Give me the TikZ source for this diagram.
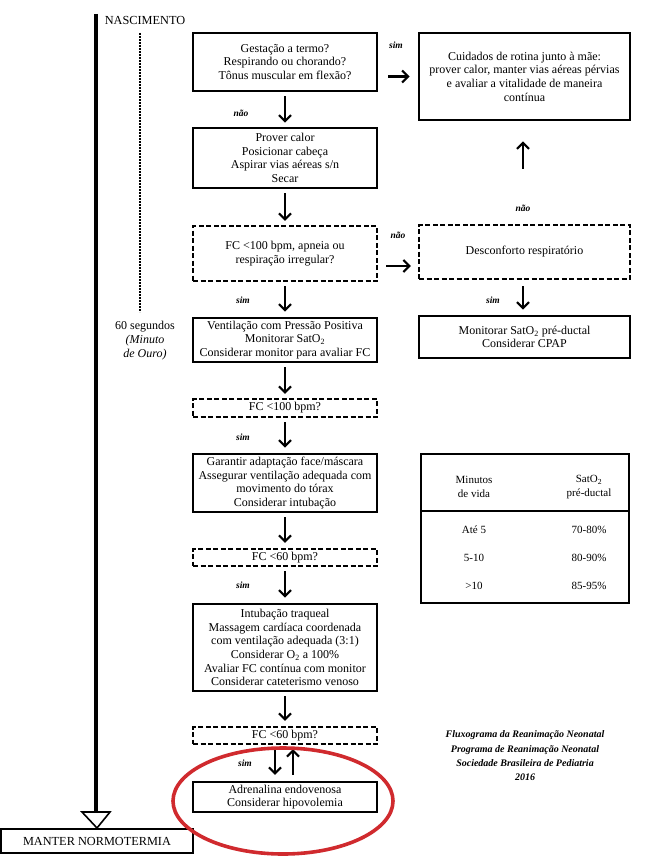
\documentclass[tikz,border=0pt]{standalone}
\usepackage{fontspec}
\setmainfont{Liberation Serif}
\usetikzlibrary{arrows.meta}
\definecolor{ered}{RGB}{208,42,46}
\begin{document}
\begin{tikzpicture}[x=1pt,y=-1pt,
  box/.style={draw, line width=2.6pt, align=center, inner sep=1pt, font=\fontsize{12}{13.7}\selectfont},
  mbox/.style={box, minimum width=184pt},
  rbox/.style={box, minimum width=211pt},
  dashbox/.style={dash pattern=on 5pt off 2.5pt, line width=2.2pt},
  arr/.style={line width=2.2pt, -{Straight Barb[length=6pt,width=12pt,line width=2.2pt]}},
  lbl/.style={font=\fontsize{9.5}{10}\selectfont\itshape\bfseries},
  ttxt/.style={align=center, font=\fontsize{11}{13.5}\selectfont},
]
\useasboundingbox (0,0) rectangle (648,861);

% birth line and dotted line
\coordinate (top) at (96,14);
\node[font=\fontsize{12.3}{14}\selectfont] (nasc) at (145,20) {NASCIMENTO};
\coordinate (dtop) at (140,33);
\coordinate (dbot) at (140,312);
\draw[line width=2pt, dash pattern=on 1.6pt off 1.4pt] (dtop) -- (dbot);
\node[align=center, font=\fontsize{12}{14}\selectfont] (sixty) at (145,341) {60 segundos\\{\itshape(Minuto}\\{\itshape de Ouro)}};

% main column
\node[mbox, minimum height=58pt] (b1) at (285,62) {Gestação a termo?\\Respirando ou chorando?\\Tônus muscular em flexão?};
\node[mbox, minimum height=60pt] (b2) at (285,158) {Prover calor\\Posicionar cabeça\\Aspirar vias aéreas s/n\\Secar};
\node[mbox, dashbox, minimum height=55pt] (b3) at (285,253.5) {FC <100 bpm, apneia ou\\respiração irregular?};
\node[mbox, minimum height=44pt] (b4) at (285,340) {Ventilação com Pressão Positiva\\Monitorar SatO\textsubscript{2}\\Considerar monitor para avaliar FC};
\node[mbox, dashbox, minimum height=18pt, inner sep=0pt] (b5) at (285,408) {FC <100 bpm?};
\node[mbox, minimum height=58pt] (b6) at (285,483) {Garantir adaptação face/máscara\\Assegurar ventilação adequada com\\movimento do tórax\\Considerar intubação};
\node[mbox, dashbox, minimum height=17pt, inner sep=0pt] (b7) at (285,557.5) {FC <60 bpm?};
\node[mbox, minimum height=87pt] (b8) at (285,647.5) {Intubação traqueal\\Massagem cardíaca coordenada\\com ventilação adequada (3:1)\\Considerar O\textsubscript{2} a 100\%\\Avaliar FC contínua com monitor\\Considerar cateterismo venoso};
\node[mbox, dashbox, minimum height=17pt, inner sep=0pt] (b9) at (285,735.5) {FC <60 bpm?};
\node[mbox, minimum height=30pt, line width=2.2pt] (b10) at (285,797) {Adrenalina endovenosa\\Considerar hipovolemia};

% right column
\node[rbox, minimum height=87pt] (r1) at (524.5,76.5) {Cuidados de rotina junto à mãe:\\prover calor, manter vias aéreas pérvias\\e avaliar a vitalidade de maneira\\contínua};
\node[rbox, dashbox, minimum height=54pt] (r2) at (524.5,252) {Desconforto respiratório};
\node[rbox, minimum height=42pt] (r3) at (524.5,337) {Monitorar SatO\textsubscript{2} pré-ductal\\Considerar CPAP};

% table
\node[draw, line width=1.4pt, minimum width=208pt, minimum height=149pt] (tbl) at (525,528.5) {};
\coordinate (tdiv) at (525,511);
\draw[line width=1.4pt] (tbl.west |- tdiv) -- (tbl.east |- tdiv);
\node[ttxt] (th1) at (474,487) {Minutos\\de vida};
\node[ttxt] (th2) at (589,487) {SatO\textsubscript{2}\\pré-ductal};
\node[ttxt] (t11) at (474,530) {Até 5};
\node[ttxt] (t12) at (589,530) {70-80\%};
\node[ttxt] (t21) at (474,558) {5-10};
\node[ttxt] (t22) at (589,558) {80-90\%};
\node[ttxt] (t31) at (474,586) {>10};
\node[ttxt] (t32) at (589,586) {85-95\%};

% caption
\node[align=center, font=\fontsize{10}{14.3}\selectfont\itshape\bfseries] (cap) at (525,756) {Fluxograma da Reanimação Neonatal\\Programa de Reanimação Neonatal\\Sociedade Brasileira de Pediatria\\2016};

% manter normotermia
\node[draw, line width=2pt, minimum width=192pt, minimum height=24pt, inner sep=0pt, font=\fontsize{12.3}{14}\selectfont] (mant) at (97,841) {MANTER NORMOTERMIA};
\coordinate (tri) at (96,812);
\draw[line width=4pt] (top) -- (tri);
\draw[line width=1.6pt, fill=white, line join=miter] (82,812) -- (110,812) -- (mant.north) -- cycle;

% main arrows
\draw[arr, shorten <=4pt, shorten >=4pt] (b1) -- (b2);
\draw[arr, shorten <=4pt, shorten >=4pt] (b2) -- (b3);
\draw[arr, shorten <=4pt, shorten >=5pt] (b3) -- (b4);
\draw[arr, shorten <=4pt, shorten >=4pt] (b4) -- (b5);
\draw[arr, shorten <=4pt, shorten >=5pt] (b5) -- (b6);
\draw[arr, shorten <=4pt, shorten >=5pt] (b6) -- (b7);
\draw[arr, shorten <=4pt, shorten >=5pt] (b7) -- (b8);
\draw[arr, shorten <=4pt, shorten >=5pt] (b8) -- (b9);
\draw[arr, shorten <=4pt, shorten >=6pt] ([xshift=-10pt]b9.south) -- ([xshift=-10pt]b10.north);
\draw[arr, shorten <=6pt, shorten >=4pt] ([xshift=8pt]b10.north) -- ([xshift=8pt]b9.south);

% side arrows
\draw[arr, shorten <=10pt, shorten >=8pt] (r1.west -| b1.east) -- (r1.west);
\draw[arr, shorten <=8pt, shorten >=7pt] ([yshift=-14pt]r2.west -| b3.east) -- ([yshift=-14pt]r2.west);
\draw[arr, shorten <=55pt, shorten >=20pt] ([xshift=-1.5pt]r2.north) -- ([xshift=-1.5pt]r1.south);
\draw[arr, shorten <=6pt, shorten >=5pt] ([xshift=-1.5pt]r2.south) -- ([xshift=-1.5pt]r3.north);

% labels
\node[lbl] (l1) at (396,45) {sim};
\node[lbl] (l2) at (241,113) {não};
\node[lbl] (l3) at (398,235) {não};
\node[lbl] (l4) at (523,208) {não};
\node[lbl] (l5) at (493,300) {sim};
\node[lbl] (l6) at (243,300) {sim};
\node[lbl] (l7) at (243,437) {sim};
\node[lbl] (l8) at (243,585) {sim};
\node[lbl] (l9) at (245,763) {sim};

% red ellipse
\draw[ered, line width=3.6pt] (283,801) ellipse [x radius=110, y radius=53];
\end{tikzpicture}
\end{document}
